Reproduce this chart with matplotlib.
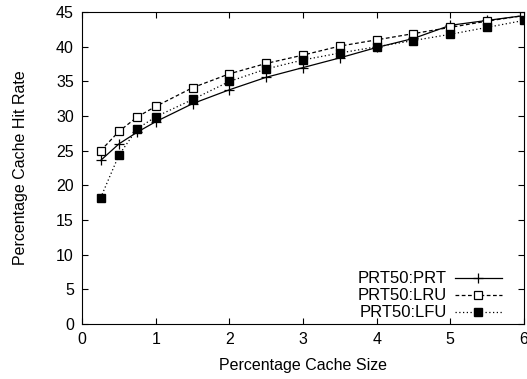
import matplotlib

matplotlib.use("Agg")
import matplotlib.pyplot as plt

plt.rcParams["font.family"] = ["Liberation Sans", "DejaVu Sans"]

cache_size = [0.25, 0.5, 0.75, 1, 1.5, 2, 2.5, 3, 3.5, 4, 4.5, 5, 5.5, 6]
prt_hits = [23.6, 26.0, 27.7, 29.2, 31.8, 33.8, 35.6, 37.0, 38.4, 39.9, 41.2, 43.1, 43.8, 44.5]
lru_hits = [25.0, 27.8, 29.9, 31.4, 34.1, 36.1, 37.6, 38.8, 40.1, 41.0, 41.9, 42.8, 43.7, 44.5]
lfu_hits = [18.2, 24.4, 28.2, 29.9, 32.4, 35.0, 36.8, 38.1, 39.1, 40.0, 40.9, 41.8, 42.8, 43.8]

fig = plt.figure(figsize=(5.27, 3.79), dpi=100)
ax = fig.add_axes([0.156, 0.145, 0.838, 0.823])

ax.plot(cache_size, prt_hits, color="black", linestyle="-", linewidth=0.9,
        marker="+", markersize=7, markeredgewidth=0.9, label="PRT50:PRT")
ax.plot(cache_size, lru_hits, color="black", linestyle=(0, (3, 2)), linewidth=0.9,
        marker="s", markersize=5.5, markerfacecolor="white", markeredgewidth=0.9,
        label="PRT50:LRU")
ax.plot(cache_size, lfu_hits, color="black", linestyle=(0, (1, 2)), linewidth=0.9,
        marker="s", markersize=5.5, markerfacecolor="black", label="PRT50:LFU")

ax.set_xlim(0, 6)
ax.set_ylim(0, 45)
ax.set_xticks(range(0, 7))
ax.set_yticks(range(0, 46, 5))
ax.tick_params(direction="in", top=True, right=True, labelsize=11.5, length=4, pad=6)
ax.set_xlabel("Percentage Cache Size", fontsize=11.5, labelpad=8)
ax.set_ylabel("Percentage Cache Hit Rate", fontsize=11.5, labelpad=20)

ax.legend(loc="lower right", bbox_to_anchor=(0.965, -0.01), frameon=False,
          markerfirst=False, fontsize=12, handlelength=2.8, labelspacing=0.12,
          borderaxespad=0, handletextpad=0.5)

fig.savefig("out.png", dpi=100)
